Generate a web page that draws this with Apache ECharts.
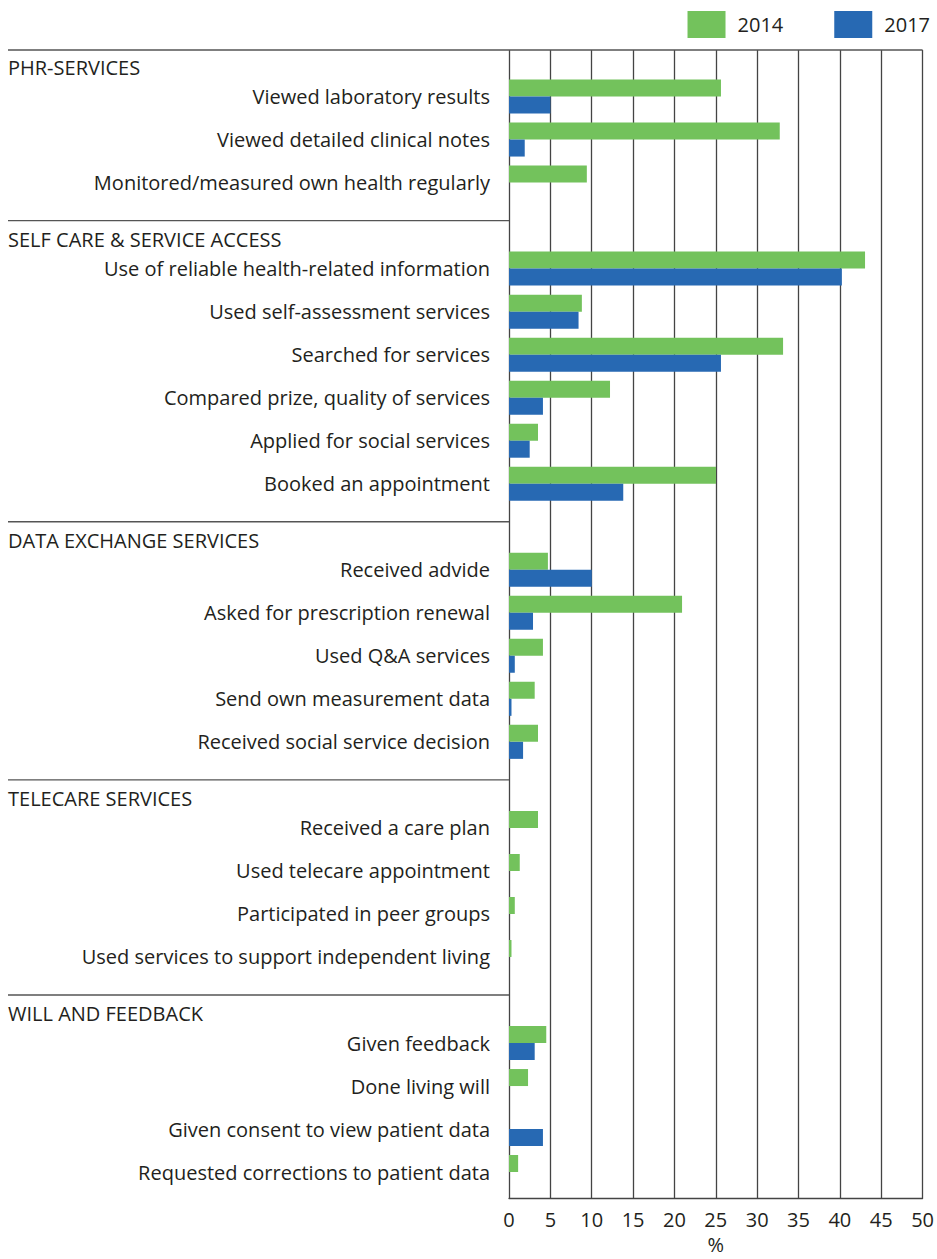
<!DOCTYPE html>
<html>
<head>
<meta charset="utf-8">
<script src="https://cdn.jsdelivr.net/npm/echarts@6/dist/echarts.min.js"></script>
<style>
html,body{margin:0;padding:0;background:#fff;}
#chart{width:937px;height:1259px;}
</style>
</head>
<body>
<div id="chart"></div>
<script>
const categories = [
  'PHR-SERVICES',
  'Viewed laboratory results',
  'Viewed detailed clinical notes',
  'Monitored/measured own health regularly',
  'SELF CARE & SERVICE ACCESS',
  'Use of reliable health-related information',
  'Used self-assessment services',
  'Searched for services',
  'Compared prize, quality of services',
  'Applied for social services',
  'Booked an appointment',
  'DATA EXCHANGE SERVICES',
  'Received advide',
  'Asked for prescription renewal',
  'Used Q&A services',
  'Send own measurement data',
  'Received social service decision',
  'TELECARE SERVICES',
  'Received a care plan',
  'Used telecare appointment',
  'Participated in peer groups',
  'Used services to support independent living',
  'WILL AND FEEDBACK',
  'Given feedback',
  'Done living will',
  'Given consent to view patient data',
  'Requested corrections to patient data'
];
const headers = ['PHR-SERVICES','SELF CARE & SERVICE ACCESS','DATA EXCHANGE SERVICES','TELECARE SERVICES','WILL AND FEEDBACK'];
const values2014 = [null, 25.6, 32.7, 9.4, null, 43.0, 8.8, 33.1, 12.2, 3.5, 25.0, null, 4.7, 20.9, 4.1, 3.1, 3.5, null, 3.5, 1.3, 0.7, 0.3, null, 4.5, 2.3, null, 1.1];
const values2017 = [null, 5.0, 1.9, null, null, 40.2, 8.4, 25.6, 4.1, 2.5, 13.8, null, 10.0, 2.9, 0.7, 0.3, 1.7, null, null, null, null, null, null, 3.1, null, 4.1, null];
const seriesNames = ['2014', '2017'];
const xMin = 0, xMax = 50, xStep = 5;

const FONT = 'Open Sans';
const TXT = '#231f20';
const chart = echarts.init(document.getElementById('chart'), null, {renderer: 'svg'});
const option = {
  backgroundColor: '#fff',
  textStyle: {fontFamily: FONT},
  legend: {
    data: seriesNames, right: 2, top: 6, icon: 'rect',
    itemWidth: 38, itemHeight: 27, itemGap: 51,
    textStyle: {fontFamily: FONT, fontSize: 20, color: TXT, padding: [0,0,0,7]}
  },
  grid: [
    {left: 509, width: 414, top: 32, height: 1161.6},
    {left: 509, width: 414, top: 50, height: 1156}
  ],
  xAxis: [
    {gridIndex: 0, type: 'value', min: xMin, max: xMax, interval: xStep, show: false},
    {gridIndex: 1, type: 'value', min: xMin, max: xMax, interval: xStep,
     axisLine: {show: true, lineStyle: {color: '#444', width: 1.3}},
     axisTick: {show: false},
     splitLine: {show: true, lineStyle: {color: '#444', width: 1.3}},
     axisLabel: {fontFamily: FONT, fontSize: 20, color: TXT, margin: 11},
     name: '%', nameLocation: 'middle', nameGap: 34,
     nameTextStyle: {fontFamily: FONT, fontSize: 20, color: TXT}}
  ],
  yAxis: [
    {gridIndex: 0, type: 'category', data: categories, inverse: true,
     axisLine: {show: false}, axisTick: {show: false}, splitLine: {show: false},
     axisLabel: {fontFamily: FONT, fontSize: 20, color: TXT, margin: 19, interval: 0,
       formatter: v => headers.includes(v) ? '' : v}},
    {gridIndex: 1, type: 'value', min: 0, max: 1, show: false}
  ],
  series: [
    {name: seriesNames[0], type: 'bar', xAxisIndex: 0, yAxisIndex: 0, data: values2014,
     barWidth: 17, barGap: '0%', itemStyle: {color: '#73c25c'}, animation: false},
    {name: seriesNames[1], type: 'bar', xAxisIndex: 0, yAxisIndex: 0, data: values2017,
     barWidth: 17, barGap: '0%', itemStyle: {color: '#2769b3'}, animation: false}
  ],
  animation: false
};
chart.setOption(option);

// section separators and header texts, positioned through the axes
const x0 = chart.convertToPixel({xAxisIndex: 1}, xMin);
const x1 = chart.convertToPixel({xAxisIndex: 1}, xMax);
const topY = chart.convertToPixel({yAxisIndex: 1}, 1);
const leftX = 8;
const graphics = [];
headers.forEach((h, i) => {
  const c = chart.convertToPixel({yAxisIndex: 0}, h);
  const lineY = i === 0 ? topY : c - 5;
  graphics.push({type: 'line', silent: true,
    shape: {x1: leftX, y1: lineY, x2: i === 0 ? x1 : x0, y2: lineY},
    style: {stroke: '#555', lineWidth: 1.3}});
  graphics.push({type: 'text', silent: true, x: leftX, y: c + 13.5,
    style: {text: h, fontFamily: FONT, fontSize: 20, fill: TXT,
      textAlign: 'left', textVerticalAlign: 'middle'}});
});
chart.setOption({graphic: graphics});
</script>
</body>
</html>
